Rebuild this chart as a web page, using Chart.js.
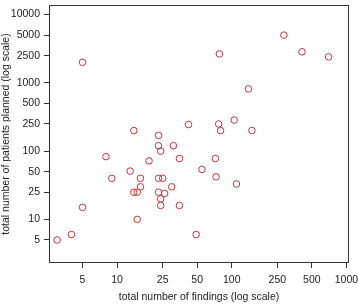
<!DOCTYPE html>
<html>
<head>
<meta charset="utf-8">
<script src="https://cdn.jsdelivr.net/npm/chart.js@4/dist/chart.umd.min.js"></script>
<style>
  html, body { margin: 0; padding: 0; background: #fff; }
  canvas { display: block; }
</style>
</head>
<body>
<canvas id="plot" width="358" height="304"></canvas>
<script>
// valores (escala log en ambos ejes)
const findings        = [5, 14, 23, 23, 31, 24, 285, 78, 410, 700, 140, 42, 77, 80, 105, 150,
                         8, 19, 35, 13, 9, 16, 23, 25, 16, 30, 14, 15, 23, 26, 24, 24, 35,
                         5, 15, 4, 3, 72, 55, 73, 110, 49];
const patientsPlanned = [2000, 200, 170, 120, 120, 100, 5000, 2650, 2850, 2400, 815, 245, 250, 200, 285, 200,
                         83, 72, 78, 51, 40, 40, 40, 40, 30, 30, 25, 25, 25, 24, 20, 16, 16,
                         15, 10, 6, 5, 78, 54, 42, 33, 6];

const xTicks = [5, 10, 25, 50, 100, 250, 500, 1000];
const yTicks = [5, 10, 25, 50, 100, 250, 500, 1000, 2500, 5000, 10000];
const xRange = [2.55, 1054];
const yRange = [2.3, 13800];

const puntos = findings.map((f, i) => ({ x: f, y: patientsPlanned[i] }));

const FONT = 'Liberation Sans, Arial, Helvetica, sans-serif';
const INK = '#222';

// caja completa alrededor del area de dibujo (estilo R)
const marco = {
  id: 'marco',
  afterDraw(chart) {
    const { ctx, chartArea: a } = chart;
    ctx.save();
    ctx.strokeStyle = '#333';
    ctx.lineWidth = 1;
    ctx.strokeRect(Math.round(a.left) + 0.5, Math.round(a.top) + 0.5,
                   Math.round(a.right - a.left) - 1, Math.round(a.bottom - a.top) - 1);
    ctx.restore();
  }
};

function ejeLog(ticks, range, titulo, esX) {
  return {
    type: 'logarithmic',
    min: range[0],
    max: range[1],
    afterBuildTicks: s => { s.ticks = ticks.map(v => ({ value: v })); },
    afterFit: s => {
      // tamaño fijo del eje y sin relleno extra por las etiquetas extremas
      if (esX) { s.height = 41; s.paddingLeft = 0; s.paddingRight = 0; }
      else { s.width = 49; s.paddingTop = 0; s.paddingBottom = 0; }
    },
    grid: { display: true, drawOnChartArea: false, drawTicks: true, tickLength: 5, color: '#333' },
    border: { display: false },
    ticks: {
      autoSkip: false,
      maxRotation: 0,
      padding: esX ? 6 : 4,
      color: INK,
      font: { family: FONT, size: 10.5 },
      callback: v => String(v)
    },
    title: {
      display: true,
      text: titulo,
      color: INK,
      font: { family: FONT, size: 10.5 },
      padding: { top: 0, bottom: 1 }
    }
  };
}

new Chart(document.getElementById('plot'), {
  type: 'scatter',
  data: {
    datasets: [{
      data: puntos,
      pointRadius: 3.3,
      pointBorderWidth: 1,
      pointBorderColor: '#c83232',
      pointBackgroundColor: 'rgba(0,0,0,0)'
    }]
  },
  options: {
    responsive: false,
    animation: false,
    layout: { padding: { top: 2, right: 9, left: 0, bottom: 0 } },
    plugins: { legend: { display: false }, tooltip: { enabled: false } },
    scales: {
      x: ejeLog(xTicks, xRange, 'total number of findings (log scale)', true),
      y: ejeLog(yTicks, yRange, 'total number of patients planned (log scale)', false)
    }
  },
  plugins: [marco]
});
</script>
</body>
</html>
